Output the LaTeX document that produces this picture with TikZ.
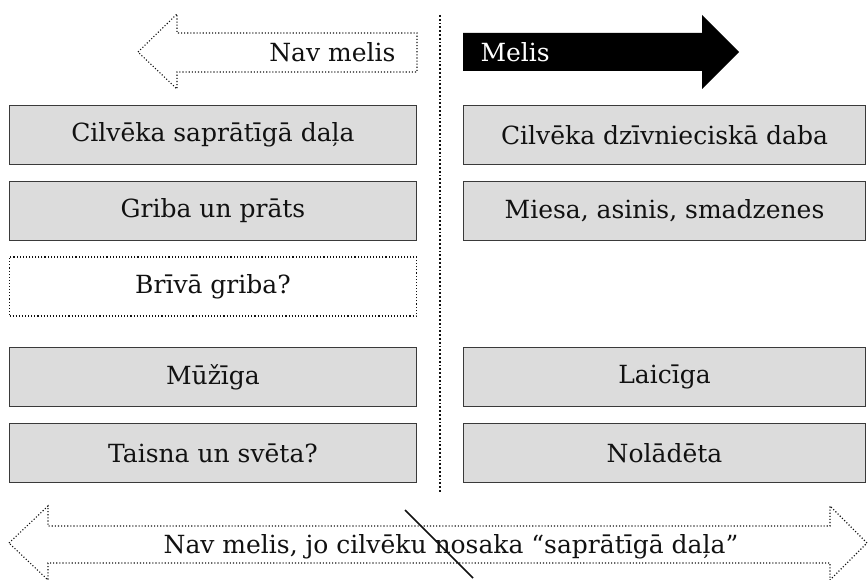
\documentclass[tikz,border=0pt]{standalone}
\usepackage{fontspec}
\setmainfont{DejaVu Serif}
\definecolor{boxfill}{HTML}{DCDCDC}
\definecolor{boxline}{HTML}{3A3A3A}
\definecolor{ink}{HTML}{111111}
\begin{document}
\begin{tikzpicture}[x=1pt,y=-1pt,
  every node/.style={font=\fontsize{25}{30}\selectfont, text=ink},
  graybox/.style={draw=boxline, line width=1.3pt, fill=boxfill, minimum height=59pt, inner sep=0pt},
  leftbox/.style={minimum width=407pt},
  rightbox/.style={minimum width=402pt},
  dotbox/.style={draw=ink, line width=1.1pt, dotted, minimum height=59pt, minimum width=407pt, inner sep=0pt},
  dotarrow/.style={draw=ink, line width=1.1pt, dotted}]
\useasboundingbox (0,0) rectangle (868,580);

% divider
\coordinate (dtop) at (440,15);
\coordinate (dbot) at (440,492);
\draw[ink, line width=1.8pt, dotted] (dtop) -- (dbot);

% top left arrow (dotted outline)
\draw[dotarrow] (138,52) -- (177,14) -- (177,33) -- (417,33) -- (417,72) -- (177,72) -- (177,89) -- cycle;
\node[anchor=base east] (navmelis) at (399,62) {Nav melis};

% top right arrow (black)
\fill[black] (463,33) -- (702,33) -- (702,15) -- (739,52) -- (702,89) -- (702,71) -- (463,71) -- cycle;
\node[anchor=base west, text=white] (melis) at (477,62) {Melis};

% left column
\node[graybox, leftbox] (l1) at (213,135) {Cilvēka saprātīgā daļa};
\node[graybox, leftbox] (l2) at (213,211) {Griba un prāts};
\node[dotbox] (l3) at (213,286.5) {Brīvā griba?};
\node[graybox, leftbox] (l4) at (213,377) {Mūžīga};
\node[graybox, leftbox] (l5) at (213,453) {Taisna un svēta?};

% right column
\node[graybox, rightbox] (r1) at (664.5,135) {Cilvēka dzīvnieciskā daba};
\node[graybox, rightbox] (r2) at (664.5,211) {Miesa, asinis, smadzenes};
\node[graybox, rightbox] (r4) at (664.5,377) {Laicīga};
\node[graybox, rightbox] (r5) at (664.5,453) {Nolādēta};

% bottom double arrow
\draw[dotarrow] (9,543) -- (48,506) -- (48,526) -- (830,526) -- (830,506) -- (867,543) -- (830,580) -- (830,563) -- (48,563) -- (48,580) -- cycle;
\node[anchor=base] (bottomtext) at (451,553) {Nav melis, jo cilvēku nosaka “saprātīgā daļa”};

% strike line
\coordinate (s1) at (405,510);
\coordinate (s2) at (473,578);
\draw[ink, line width=1.5pt] (s1) -- (s2);
\end{tikzpicture}
\end{document}
